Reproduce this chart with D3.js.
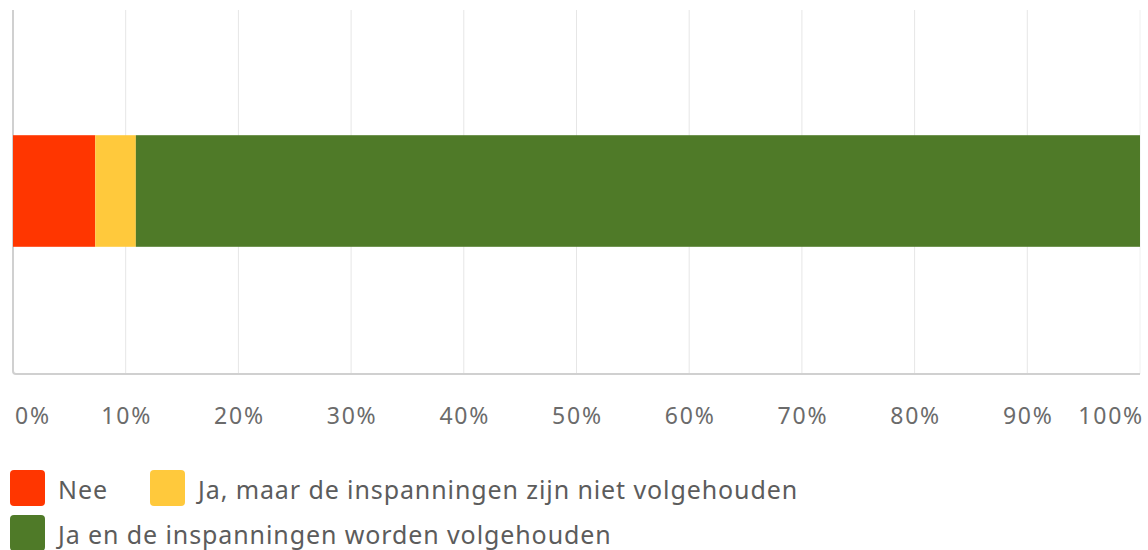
<!DOCTYPE html>
<html lang="nl">
<head>
    <meta charset="UTF-8">
    <title>Inspanningen</title>
    <script src="https://d3js.org/d3.v7.min.js"></script>
    <style>
        body { margin: 0; background: #fff; }
        .tick-label { font-family: "Noto Sans", sans-serif; font-size: 23px; letter-spacing: 1.8px; fill: #6b6b6b; }
        .legend-label { font-family: "Noto Sans", sans-serif; font-size: 25px; letter-spacing: 0.9px; fill: #5c5c5c; }
    </style>
</head>
<body>
    <svg width="1148" height="550"></svg>
    <script>
        // Data
        const categories = ["Nee", "Ja, maar de inspanningen zijn niet volgehouden", "Ja en de inspanningen worden volgehouden"];
        const values = [7.3, 3.6, 89.1];
        const colors = ["#ff3600", "#ffc93c", "#4f7a28"];
        const tickValues = [0, 10, 20, 30, 40, 50, 60, 70, 80, 90, 100];

        const svg = d3.select("svg");

        const x = d3.scaleLinear().domain([0, 100]).range([13, 1140]);
        const y = d3.scaleBand().domain(["q1"]).range([8, 374]).paddingInner(0).paddingOuter(1.14);

        // Gridlines
        svg.append("g").selectAll("line")
            .data(tickValues.slice(1))
            .enter().append("line")
            .attr("x1", d => x(d)).attr("x2", d => x(d))
            .attr("y1", 10).attr("y2", 374)
            .attr("stroke", d => d === 100 ? "#f0f0f0" : "#e6e6e6")
            .attr("stroke-width", 1);

        // Axis frame (left and bottom)
        svg.append("path")
            .attr("d", `M${x(0)},10 V${374 - 3} Q${x(0)},374 ${x(0) + 3},374 H${x(100)}`)
            .attr("fill", "none")
            .attr("stroke", "#d0d0d0")
            .attr("stroke-width", 2);

        // Stacked bar
        let acc = 0;
        const stacked = values.map((v, i) => {
            const s = { start: acc, end: acc + v, color: colors[i] };
            acc += v;
            return s;
        });
        svg.append("g").selectAll("rect")
            .data(stacked)
            .enter().append("rect")
            .attr("x", d => x(d.start))
            .attr("width", d => x(d.end) - x(d.start))
            .attr("y", y("q1"))
            .attr("height", y.bandwidth())
            .attr("fill", d => d.color);

        // Tick labels
        svg.append("g").selectAll("text")
            .data(tickValues)
            .enter().append("text")
            .attr("class", "tick-label")
            .attr("x", d => d === 0 ? x(d) + 2 : d === 100 ? x(d) + 4 : x(d) + 1)
            .attr("y", 424)
            .attr("text-anchor", d => d === 0 ? "start" : d === 100 ? "end" : "middle")
            .text(d => d + "%");

        // Legend
        const legendPos = [
            { x: 10, y: 470 },
            { x: 150, y: 470 },
            { x: 10, y: 515 }
        ];
        const legend = svg.append("g").selectAll("g")
            .data(categories)
            .enter().append("g")
            .attr("transform", (d, i) => `translate(${legendPos[i].x},${legendPos[i].y})`);
        legend.append("rect")
            .attr("width", 35).attr("height", 36)
            .attr("rx", 4)
            .attr("fill", (d, i) => colors[i]);
        legend.append("text")
            .attr("class", "legend-label")
            .attr("x", 48)
            .attr("y", 29)
            .text(d => d);
    </script>
</body>
</html>
